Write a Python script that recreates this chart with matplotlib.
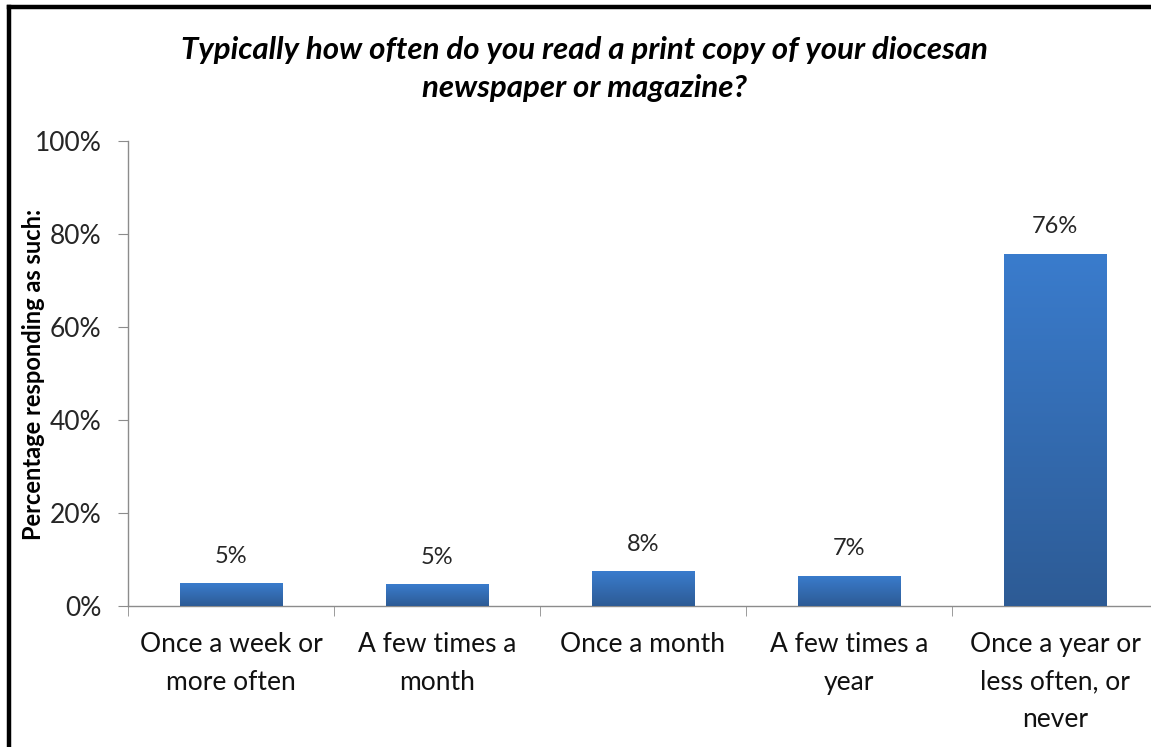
import numpy as np
import matplotlib
matplotlib.use("Agg")
import matplotlib.pyplot as plt
from matplotlib.lines import Line2D
from matplotlib.colors import LinearSegmentedColormap

categories = ["Once a week or\nmore often", "A few times a\nmonth", "Once a month",
              "A few times a\nyear", "Once a year or\nless often, or\nnever"]
values = [4.9, 4.7, 7.5, 6.5, 75.7]
value_labels = ["5%", "5%", "8%", "7%", "76%"]
yticks = [0, 20, 40, 60, 80, 100]
ytick_labels = ["0%", "20%", "40%", "60%", "80%", "100%"]
title = "Typically how often do you read a print copy of your diocesan\nnewspaper or magazine?"
ylabel = "Percentage responding as such:"

FONT = ["Lato", "DejaVu Sans"]
plt.rcParams['font.family'] = FONT

W, H = 1151, 747
fig = plt.figure(figsize=(W / 100, H / 100), dpi=100)
fig.patch.set_facecolor("white")

# axes in pixel geometry
x0, x1 = 128, 1158
ybot, ytop = 606, 141
ax = fig.add_axes([x0 / W, (H - ybot) / H, (x1 - x0) / W, (ybot - ytop) / H])
ax.set_facecolor("none")

n = len(categories)
xpos = np.arange(n)
bars = ax.bar(xpos, values, width=0.5, color="#3670bb", zorder=2)

cmap = LinearSegmentedColormap.from_list("g", ["#2d5b95", "#3a7ccd"])
grad = np.linspace(0, 1, 256).reshape(-1, 1)
for b in bars:
    bx, by = b.get_x(), b.get_y()
    bw, bh = b.get_width(), b.get_height()
    im = ax.imshow(grad, cmap=cmap, origin="lower", aspect="auto",
                   extent=[bx, bx + bw, by, by + bh], zorder=3)
    im.set_clip_path(b)

ax.set_xlim(-0.5, n - 0.5)
ax.set_ylim(0, 100)

for x, v, lab in zip(xpos, values, value_labels):
    ax.annotate(lab, (x, v), xytext=(0, 27), textcoords="offset pixels",
                ha="center", va="center", fontsize=17, color="#262626")

axis_color = "#8c8c8c"
for s in ["top", "right"]:
    ax.spines[s].set_visible(False)
ax.spines["left"].set_color(axis_color)
ax.spines["bottom"].set_color(axis_color)
ax.spines["left"].set_linewidth(1.0)
ax.spines["bottom"].set_linewidth(1.0)

ax.set_yticks(yticks)
ax.set_yticklabels(ytick_labels, fontsize=19, color="#262626")
ax.tick_params(axis="y", length=7, color=axis_color, pad=12)

ax.set_xticks(xpos)
ax.set_xticklabels(categories, fontsize=19, color="#111111", linespacing=1.62)
ax.set_xticks(np.arange(n + 1) - 0.5, minor=True)
ax.tick_params(axis="x", which="major", length=0, pad=19)
ax.tick_params(axis="x", which="minor", length=7, color=axis_color)

fig.text(584 / W, 1 - 69 / H, title, ha="center", va="center", fontsize=22.5,
         fontweight="bold", fontstyle="italic", linespacing=1.42, color="black")
fig.text(34 / W, 1 - 374 / H, ylabel, rotation=90, ha="center", va="center",
         fontsize=17, fontweight="bold", color="black")

# frame (top and left borders)
fig.add_artist(Line2D([9 / W, 9 / W], [0, 1 - 7 / H], transform=fig.transFigure,
                      color="black", lw=3.2, solid_capstyle="projecting"))
fig.add_artist(Line2D([9 / W, 1], [1 - 7 / H, 1 - 7 / H], transform=fig.transFigure,
                      color="black", lw=3.2, solid_capstyle="projecting"))

fig.savefig("out.png", dpi=100)
